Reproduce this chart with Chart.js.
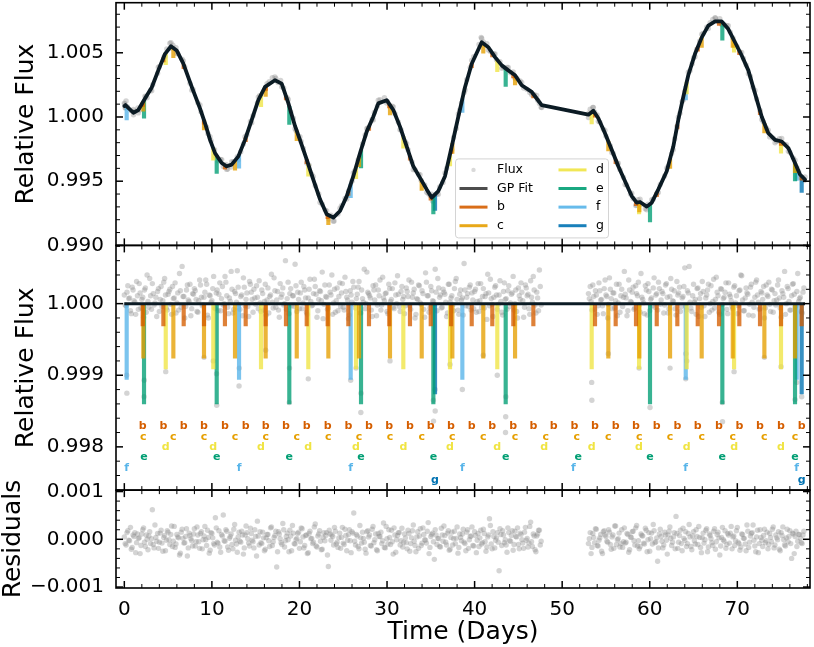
<!DOCTYPE html>
<html>
<head>
<meta charset="utf-8">
<script src="https://cdn.jsdelivr.net/npm/chart.js@4.4.1/dist/chart.umd.min.js"></script>
<style>
  html, body { margin: 0; padding: 0; background: #fff; }
  #wrap { width: 814px; height: 647px; }
</style>
</head>
<body>
<div id="wrap"><canvas id="lc" width="814" height="647"></canvas></div>
<script>
// ---------- data ----------

// GP fit (top panel), time in days / relative flux
const gpTime = [0.00,0.13,1.03,1.60,2.36,3.13,3.88,4.65,5.33,5.98,
  6.74,7.70,8.64,9.22,9.79,10.36,11.12,11.69,12.26,13.02,
  13.78,14.55,15.30,16.07,17.20,17.97,18.73,19.49,20.06,20.83,
  21.58,22.35,23.11,23.87,24.63,25.40,26.15,26.92,27.68,28.43,
  29.00,29.96,30.72,31.48,32.25,33.00,33.77,34.53,35.10,35.86,
  36.62,37.39,38.14,38.91,39.67,40.81,41.57,42.33,43.10,43.85,
  44.62,45.38,46.52,47.09,47.66,53.00,53.56,54.13,54.89,55.66,
  56.41,57.18,57.94,58.51,58.89,59.66,60.23,60.98,61.94,62.69,
  63.26,63.83,64.40,65.17,65.94,66.69,67.46,68.22,68.97,69.74,
  70.50,71.26,72.02,72.79,73.54,74.31,75.07,75.83,76.59,77.16,77.73];
const gpFlux = [1.00085,1.00093,1.00033,1.00054,1.00144,1.00230,1.00363,1.00492,1.00551,1.00518,
  1.00415,1.00234,1.00067,0.99951,0.99822,0.99719,0.99642,0.99616,0.99629,0.99693,
  0.99822,0.99977,1.00131,1.00234,1.00286,1.00260,1.00108,0.99930,0.99822,0.99668,
  0.99513,0.99359,0.99243,0.99217,0.99268,0.99384,0.99539,0.99719,0.99886,1.00002,
  1.00106,1.00131,1.00054,0.99925,0.99770,0.99616,0.99526,0.99436,0.99372,0.99423,
  0.99539,0.99770,1.00002,1.00234,1.00415,1.00582,1.00543,1.00466,1.00402,1.00363,
  1.00325,1.00247,1.00196,1.00144,1.00093,1.00018,1.00049,0.99990,0.99874,0.99745,
  0.99616,0.99500,0.99384,0.99333,0.99338,0.99302,0.99333,0.99436,0.99577,0.99770,
  0.99977,1.00157,1.00325,1.00492,1.00620,1.00711,1.00744,1.00744,1.00685,1.00582,
  1.00479,1.00363,1.00183,1.00002,0.99874,0.99822,0.99809,0.99758,0.99642,0.99552,0.99513];

// raw flux points around the GP (top panel)
const fluxPoints = [[0.05,1.00102],[0.10,1.00070],[0.20,1.00125],[0.35,1.00080],[0.80,1.00048],[1.05,1.00018],[1.20,1.00045],[1.55,1.00070],[1.75,1.00055],[2.45,1.00158],
  [2.60,1.00150],[3.00,1.00208],[3.25,1.00252],[3.80,1.00340],[4.00,1.00392],[4.55,1.00470],[4.85,1.00530],[5.20,1.00575],[5.40,1.00535],[5.55,1.00560],
  [5.90,1.00540],[6.10,1.00495],[6.60,1.00450],[6.90,1.00390],[7.50,1.00262],[7.85,1.00215],[8.40,1.00110],[8.75,1.00040],[9.40,0.99920],[9.55,0.99870],
  [9.90,0.99815],[10.30,0.99745],[10.75,0.99660],[11.00,0.99670],[11.30,0.99615],[11.60,0.99630],[11.80,0.99595],[12.20,0.99610],[12.45,0.99652],[12.90,0.99690],
  [13.30,0.99730],[13.60,0.99790],[14.00,0.99860],[14.40,0.99965],[14.70,1.00010],[15.20,1.00110],[15.45,1.00165],[16.30,1.00260],[16.55,1.00275],[16.90,1.00305],
  [17.30,1.00300],[17.55,1.00268],[17.85,1.00285],[18.20,1.00225],[18.60,1.00150],[19.00,1.00040],[19.30,0.99990],[19.60,0.99895],[20.20,0.99810],[20.45,0.99755],
  [21.10,0.99625],[21.40,0.99555],[21.80,0.99465],[22.20,0.99400],[22.60,0.99320],[22.95,0.99275],[23.35,0.99205],[23.60,0.99235],[23.95,0.99190],[24.40,0.99245],
  [24.80,0.99310],[25.20,0.99365],[25.60,0.99425],[26.00,0.99500],[26.30,0.99580],[26.70,0.99665],[27.20,0.99790],[27.50,0.99860],[27.80,0.99915],[28.30,0.99980],
  [28.55,1.00035],[28.90,1.00085],[29.20,1.00135],[29.70,1.00150],[30.05,1.00120],[30.60,1.00085],[30.90,1.00025],[31.30,0.99960],[31.60,0.99900],[32.10,0.99805],
  [32.40,0.99745],[32.85,0.99650],[33.20,0.99590],[33.60,0.99555],[33.90,0.99505],[34.30,0.99470],[34.70,0.99405],[34.90,0.99390],[35.20,0.99345],[35.70,0.99400],
  [36.00,0.99455],[36.40,0.99490],[36.80,0.99600],[37.60,0.99840],[37.90,0.99910],[38.30,1.00055],[38.50,1.00110],[38.80,1.00190],[39.10,1.00290],[39.50,1.00385],
  [39.90,1.00470],[40.50,1.00565],[40.75,1.00620],[41.00,1.00585],[41.40,1.00570],[41.80,1.00510],[42.20,1.00490],[42.50,1.00445],[42.90,1.00430],[43.30,1.00385],
  [43.70,1.00385],[44.10,1.00345],[44.40,1.00350],[44.85,1.00300],[45.20,1.00280],[45.60,1.00225],[46.00,1.00215],[46.30,1.00190],[46.80,1.00175],[47.20,1.00130],
  [47.40,1.00105],[47.60,1.00075],
  [53.05,1.00030],[53.20,1.00060],[53.50,1.00075],[53.70,1.00040],[54.00,1.00015],[54.30,0.99960],[54.70,0.99905],[55.00,0.99850],[55.50,0.99775],[55.85,0.99715],
  [56.30,0.99640],[56.60,0.99590],[57.00,0.99530],[57.35,0.99470],[57.80,0.99400],[58.10,0.99365],[58.40,0.99310],[58.65,0.99355],[59.00,0.99320],[59.50,0.99285],
  [59.80,0.99320],[60.40,0.99360],[60.80,0.99405],[61.20,0.99475],[61.70,0.99540],[62.10,0.99615],[62.50,0.99715],[62.85,0.99830],[63.10,0.99925],[63.45,1.00030],
  [63.70,1.00120],[64.00,1.00200],[64.60,1.00360],[64.85,1.00415],[65.00,1.00460],[65.35,1.00525],[65.70,1.00590],[66.10,1.00650],[66.50,1.00700],[66.90,1.00735],
  [67.20,1.00760],[67.50,1.00770],[67.70,1.00745],[68.00,1.00765],[68.50,1.00720],[68.80,1.00710],[69.20,1.00660],[69.50,1.00615],[69.95,1.00550],[70.30,1.00505],
  [70.70,1.00455],[71.00,1.00405],[71.50,1.00315],[71.80,1.00230],[72.20,1.00140],[72.60,1.00050],[72.95,0.99965],[73.30,0.99915],[73.70,0.99845],[74.10,0.99835],
  [74.50,0.99810],[74.80,0.99830],[75.30,0.99790],[75.60,0.99785],[76.00,0.99725],[76.40,0.99680],[76.80,0.99605],[77.00,0.99575],[77.40,0.99530],[77.65,0.99505],
  [0.00,1.00107],[0.13,1.00073],[1.03,1.00058],[1.60,1.00032],[2.36,1.00162],[3.13,1.00204],[3.88,1.00387],[4.65,1.00472],[5.33,1.00579],[5.98,1.00494],
  [6.74,1.00437],[7.70,1.00209],[8.64,1.00093],[9.22,0.99929],[9.79,0.99846],[10.36,0.99699],[11.12,0.99668],[11.69,0.99592],[12.26,0.99651],[13.02,0.99667],
  [13.78,0.99847],[14.55,0.99955],[15.30,1.00155],[16.07,1.00214],[17.20,1.00312],[17.97,1.00236],[18.73,1.00136],[19.49,0.99908],[20.06,0.99846],[20.83,0.99642],
  [21.58,0.99535],[22.35,0.99335],[23.11,0.99268],[23.87,0.99189],[24.63,0.99290],[25.40,0.99362],[26.15,0.99565],[26.92,0.99695],[27.68,0.99908],[28.43,0.99977],
  [29.00,1.00130],[29.96,1.00109],[30.72,1.00079],[31.48,0.99901],[32.25,0.99792],[33.00,0.99590],[33.77,0.99550],[34.53,0.99414],[35.10,0.99398],[35.86,0.99399],
  [36.62,0.99564],[37.39,0.99744],[38.14,1.00024],[38.91,1.00210],[39.67,1.00441],[40.81,1.00612],[41.57,1.00521],[42.33,1.00490],[43.10,1.00380],[43.85,1.00385],
  [44.62,1.00301],[45.38,1.00269],[46.52,1.00174],[47.09,1.00168],[47.66,1.00073],[53.00,0.99996],[53.56,1.00075],[54.13,0.99966],[54.89,0.99896],[55.66,0.99723],
  [56.41,0.99640],[57.18,0.99474],[57.94,0.99406],[58.51,0.99313],[58.89,0.99360],[59.66,0.99278],[60.23,0.99355],[60.98,0.99412],[61.94,0.99601],[62.69,0.99744],
  [63.26,0.99999],[63.83,1.00133],[64.40,1.00349],[65.17,1.00470],[65.94,1.00644],[66.69,1.00689],[67.46,1.00774],[68.22,1.00720],[68.97,1.00711],[69.74,1.00560],
  [70.50,1.00503],[71.26,1.00337],[72.02,1.00207],[72.79,0.99980],[73.54,0.99898],[74.31,0.99800],[75.07,0.99833],[75.83,0.99734],[76.59,0.99664],[77.16,0.99528],[77.73,0.99533]];

// observation times (two interleaved cadences) for the detrended and residual panels
const obsTime = [0,0.2,0.4,0.6,0.8,1,1.2,1.4,1.6,1.8,2,2.2,2.4,2.6,2.8,3,3.2,3.4,3.6,3.8,
  4,4.2,4.4,4.6,4.8,5,5.2,5.4,5.6,5.8,6,6.2,6.4,6.6,6.8,7,7.2,7.4,7.6,7.8,
  8,8.2,8.4,8.6,8.8,9,9.2,9.4,9.6,9.8,10,10.2,10.4,10.6,10.8,11,11.2,11.4,11.6,11.8,
  12,12.2,12.4,12.6,12.8,13,13.2,13.4,13.6,13.8,14,14.2,14.4,14.6,14.8,15,15.2,15.4,15.6,15.8,
  16,16.2,16.4,16.6,16.8,17,17.2,17.4,17.6,17.8,18,18.2,18.4,18.6,18.8,19,19.2,19.4,19.6,19.8,
  20,20.2,20.4,20.6,20.8,21,21.2,21.4,21.6,21.8,22,22.2,22.4,22.6,22.8,23,23.2,23.4,23.6,23.8,
  24,24.2,24.4,24.6,24.8,25,25.2,25.4,25.6,25.8,26,26.2,26.4,26.6,26.8,27,27.2,27.4,27.6,27.8,
  28,28.2,28.4,28.6,28.8,29,29.2,29.4,29.6,29.8,30,30.2,30.4,30.6,30.8,31,31.2,31.4,31.6,31.8,
  32,32.2,32.4,32.6,32.8,33,33.2,33.4,33.6,33.8,34,34.2,34.4,34.6,34.8,35,35.2,35.4,35.6,35.8,
  36,36.2,36.4,36.6,36.8,37,37.2,37.4,37.6,37.8,38,38.2,38.4,38.6,38.8,39,39.2,39.4,39.6,39.8,
  40,40.2,40.4,40.6,40.8,41,41.2,41.4,41.6,41.8,42,42.2,42.4,42.6,42.8,43,43.2,43.4,43.6,43.8,
  44,44.2,44.4,44.6,44.8,45,45.2,45.4,45.6,45.8,46,46.2,46.4,46.6,46.8,47,47.2,47.4,47.6,
  53,53.2,53.4,53.6,53.8,54,54.2,54.4,54.6,54.8,55,55.2,55.4,55.6,55.8,56,56.2,56.4,56.6,56.8,
  57,57.2,57.4,57.6,57.8,58,58.2,58.4,58.6,58.8,59,59.2,59.4,59.6,59.8,60,60.2,60.4,60.6,60.8,
  61,61.2,61.4,61.6,61.8,62,62.2,62.4,62.6,62.8,63,63.2,63.4,63.6,63.8,64,64.2,64.4,64.6,64.8,
  65,65.2,65.4,65.6,65.8,66,66.2,66.4,66.6,66.8,67,67.2,67.4,67.6,67.8,68,68.2,68.4,68.6,68.8,
  69,69.2,69.4,69.6,69.8,70,70.2,70.4,70.6,70.8,71,71.2,71.4,71.6,71.8,72,72.2,72.4,72.6,72.8,
  73,73.2,73.4,73.6,73.8,74,74.2,74.4,74.6,74.8,75,75.2,75.4,75.6,75.8,76,76.2,76.4,76.6,76.8,
  77,77.2,77.4,77.6];
const obsTime2 = [0.1,0.3,0.5,0.7,0.9,1.1,1.3,1.5,1.7,1.9,2.1,2.3,2.5,2.7,2.9,3.1,3.3,3.5,3.7,3.9,
  4.1,4.3,4.5,4.7,4.9,5.1,5.3,5.5,5.7,5.9,6.1,6.3,6.5,6.7,6.9,7.1,7.3,7.5,7.7,7.9,
  8.1,8.3,8.5,8.7,8.9,9.1,9.3,9.5,9.7,9.9,10.1,10.3,10.5,10.7,10.9,11.1,11.3,11.5,11.7,11.9,
  12.1,12.3,12.5,12.7,12.9,13.1,13.3,13.5,13.7,13.9,14.1,14.3,14.5,14.7,14.9,15.1,15.3,15.5,15.7,15.9,
  16.1,16.3,16.5,16.7,16.9,17.1,17.3,17.5,17.7,17.9,18.1,18.3,18.5,18.7,18.9,19.1,19.3,19.5,19.7,19.9,
  20.1,20.3,20.5,20.7,20.9,21.1,21.3,21.5,21.7,21.9,22.1,22.3,22.5,22.7,22.9,23.1,23.3,23.5,23.7,23.9,
  24.1,24.3,24.5,24.7,24.9,25.1,25.3,25.5,25.7,25.9,26.1,26.3,26.5,26.7,26.9,27.1,27.3,27.5,27.7,27.9,
  28.1,28.3,28.5,28.7,28.9,29.1,29.3,29.5,29.7,29.9,30.1,30.3,30.5,30.7,30.9,31.1,31.3,31.5,31.7,31.9,
  32.1,32.3,32.5,32.7,32.9,33.1,33.3,33.5,33.7,33.9,34.1,34.3,34.5,34.7,34.9,35.1,35.3,35.5,35.7,35.9,
  36.1,36.3,36.5,36.7,36.9,37.1,37.3,37.5,37.7,37.9,38.1,38.3,38.5,38.7,38.9,39.1,39.3,39.5,39.7,39.9,
  40.1,40.3,40.5,40.7,40.9,41.1,41.3,41.5,41.7,41.9,42.1,42.3,42.5,42.7,42.9,43.1,43.3,43.5,43.7,43.9,
  44.1,44.3,44.5,44.7,44.9,45.1,45.3,45.5,45.7,45.9,46.1,46.3,46.5,46.7,46.9,47.1,47.3,47.5,
  53.1,53.3,53.5,53.7,53.9,54.1,54.3,54.5,54.7,54.9,55.1,55.3,55.5,55.7,55.9,56.1,56.3,56.5,56.7,56.9,
  57.1,57.3,57.5,57.7,57.9,58.1,58.3,58.5,58.7,58.9,59.1,59.3,59.5,59.7,59.9,60.1,60.3,60.5,60.7,60.9,
  61.1,61.3,61.5,61.7,61.9,62.1,62.3,62.5,62.7,62.9,63.1,63.3,63.5,63.7,63.9,64.1,64.3,64.5,64.7,64.9,
  65.1,65.3,65.5,65.7,65.9,66.1,66.3,66.5,66.7,66.9,67.1,67.3,67.5,67.7,67.9,68.1,68.3,68.5,68.7,68.9,
  69.1,69.3,69.5,69.7,69.9,70.1,70.3,70.5,70.7,70.9,71.1,71.3,71.5,71.7,71.9,72.1,72.3,72.5,72.7,72.9,
  73.1,73.3,73.5,73.7,73.9,74.1,74.3,74.5,74.7,74.9,75.1,75.3,75.5,75.7,75.9,76.1,76.3,76.5,76.7,76.9,
  77.1,77.3,77.5];

// detrended flux, offset from 1 in units of 1e-5 (one array per cadence)
const detrendedE5 = [12,-3,25,8,-14,19,2,31,-8,15,6,-19,22,40,-5,11,28,-2,9,17,
  -11,24,4,35,-6,13,20,-15,7,29,1,-9,18,52,10,-4,26,3,-17,14,
  21,6,-12,33,9,-2,16,27,-20,11,4,38,-7,19,13,-10,24,0,30,-5,
  8,45,-13,17,2,23,-8,12,36,-3,15,-18,27,6,20,-1,9,32,-11,14,
  3,-16,22,10,41,-6,18,5,-9,28,13,-2,60,7,-14,21,11,-4,25,16,
  -7,30,1,19,-12,8,34,-3,14,24,-19,6,17,44,-1,10,-8,26,12,-15,
  20,4,-10,29,15,-5,37,9,-21,18,2,23,-6,13,31,-13,7,48,0,16,
  11,-9,25,5,-17,19,33,-2,8,14,-11,27,3,21,-7,12,39,-4,17,6,
  -14,22,10,-3,30,15,-20,7,26,1,18,-8,43,11,-12,24,4,-1,16,35,
  9,-6,20,13,-18,27,2,11,-10,31,6,-15,19,8,56,-3,14,23,-9,5,
  17,-12,28,4,-5,21,10,-22,15,34,-1,9,25,-8,12,3,-16,29,7,18,
  -4,13,38,0,-11,22,6,16,-19,26,11,-7,32,2,19,-13,8,47,-2,14,
  24,-9,10,18,-15,29,5,-3,21,12,-20,36,7,15,-6,27,1,-12,20,9,
  13,-17,33,3,16,-8,25,11,-2,42,6,-14,19,28,-10,8,22,-5,14,30,
  -1,17,-13,26,9,-7,35,4,18,-16,12,23,-4,10,50,-9,15,2,-11,27,
  6,21,-18,14,31,-3,8,19,-12,25,3,-6,37,11,-15,20,7,16,-8,29,
  10,-4,23,1,-14,18,40,5,-10,22,13,-1,27,-17,9,33,2,-7,15,24,
  -6,12,30,-11,19,4,-2,26,8,-19,14,45,0,21,-9,11,28,-5,17,3,
  9,-13,22];
const detrended2E5 = [-2,16,7,-10,23,4,-15,11,28,-6,9,19,-12,3,35,-8,14,1,-18,21,
  6,-4,30,12,-9,17,-1,24,8,-13,15,42,-5,10,-20,19,5,27,-7,13,
  18,-11,4,26,-3,9,33,-16,12,2,21,-6,15,-10,29,7,-2,38,11,-14,
  3,20,-8,14,46,-1,10,-17,23,6,-4,31,16,-12,8,25,-7,1,19,-9,
  27,5,-13,12,2,36,-5,17,-19,9,22,0,-8,30,14,-3,11,55,-11,6,
  15,-7,24,8,-15,20,3,-2,34,13,-10,18,4,-21,26,9,-6,16,40,1,
  -12,22,10,-4,28,-9,17,5,-16,12,31,-1,7,23,-13,19,2,-7,44,14,
  8,-18,19,26,-2,11,-9,37,4,15,-14,21,6,-5,29,0,13,-11,24,10,
  -3,17,33,-8,9,20,-15,6,25,-1,14,-19,30,11,-6,18,3,48,-10,22,
  12,-5,16,2,-13,27,8,-2,21,35,-9,13,5,-16,19,9,-4,26,15,-7,
  20,3,-11,28,10,-6,14,41,-3,7,-18,23,12,-1,32,-12,17,6,-8,25,
  1,15,-9,19,-20,11,29,4,-5,22,13,-15,9,38,-2,16,-10,24,7,3,
  26,-8,12,-3,18,6,-14,33,10,-1,20,-7,15,4,-17,27,11,-4,45,8,
  -10,19,2,23,-6,14,30,-12,9,1,25,-16,17,6,-3,36,12,-9,21,5,
  14,-2,28,-13,10,20,3,-7,31,15,-11,8,24,-4,18,52,-6,11,2,-15,
  22,7,-5,17,-18,12,27,0,-9,34,6,16,-12,21,-1,9,29,-14,13,4,
  -7,25,11,-3,19,39,-10,8,15,-16,23,2,-5,30,12,-8,17,6,-20,26,
  10,-1,20,-12,14,5,33,-6,18,9,-15,24,3,-9,27,13,-3,42,7,-11,
  16];

// in-transit points of the detrended panel
const inTransit = [[2.25,0.99870],[2.27,0.99893],[10.55,0.99858],[10.53,0.99902],[18.84,0.99862],[18.86,0.99910],[27.03,0.99875],[27.01,0.99848],
  [35.29,0.99865],[35.31,0.99836],[43.55,0.99842],[43.53,0.99820],[43.57,0.99870],[60.03,0.99855],[68.29,0.99862],[68.31,0.99835],[76.59,0.99866],
  [0.27,0.99900],[0.29,0.99875],[13.10,0.99885],[13.12,0.99910],[25.85,0.99893],[38.60,0.99880],[64.11,0.99895],[64.13,0.99930],[76.78,0.99890],
  [4.73,0.99905],[10.16,0.99920],[21.01,0.99895],[26.46,0.99910],[37.19,0.99915],[42.59,0.99900],[53.37,0.99890],[53.39,0.99865],[58.78,0.99910],
  [64.22,0.99920],[69.63,0.99905],[74.99,0.99912],[9.10,0.99925],[16.14,0.99935],[30.34,0.99920],[40.99,0.99928],[55.27,0.99930],[62.32,0.99910],
  [73.09,0.99925],[35.48,0.99880],[35.50,0.99850],[77.35,0.99870]];

// residuals in units of 1e-5 (one array per cadence)
const residualsE5 = [5,-12,18,-3,-21,9,14,-7,2,-30,11,24,-15,0,7,-9,62,-18,4,12,
  -6,19,-25,8,-2,15,-11,28,-4,-17,10,3,-29,21,-8,6,-35,13,1,-14,
  22,-5,9,-19,16,-1,27,-13,4,-23,12,-9,45,-6,18,-27,7,-3,20,-16,
  2,11,-20,31,-10,5,-4,17,-31,9,14,-8,23,-2,-18,6,38,-12,-7,15,
  -24,3,10,-15,26,-5,8,-58,16,1,-11,20,-3,13,-26,7,29,-9,-1,12,
  -19,24,5,-13,9,-28,17,2,-6,32,-16,11,-4,-21,14,8,-33,19,-2,6,
  25,-10,-17,13,4,-8,21,-24,10,-3,16,55,-12,7,-20,3,15,-6,-29,18,
  9,-14,27,-1,-22,12,6,-9,34,-18,1,20,-11,-5,24,-27,8,14,-3,-16,
  11,-7,19,-25,3,30,-13,5,-19,22,-8,10,-2,17,-30,6,13,-42,9,2,
  -15,23,-4,8,-12,18,-21,15,1,-9,26,-17,4,11,-6,-24,20,-1,7,-13,
  16,-28,12,3,-10,21,-5,-16,9,29,-20,6,-2,14,-66,10,18,-7,-12,24,
  -3,8,-23,17,5,-11,13,-1,-19,25,2,-8,36,-15,7,-26,11,19,-4,-9,
  14,-17,4,22,-13,-2,10,-30,18,6,-6,15,-21,9,28,-11,1,-16,20,-5,
  -8,12,-27,5,16,-3,24,-14,-20,11,7,-10,19,-1,-25,13,31,-7,3,-18,
  21,-4,-12,9,-31,17,2,-6,14,48,-19,8,-9,23,-2,-15,12,5,-22,16,
  -10,6,27,-17,3,-8,19,-26,11,1,-13,22,-5,15,-33,4,-1,18,-11,9,
  13,-20,7,-3,25,-9,-16,10,2,-24,17,-6,12,30,-14,5,-28,20,-2,8,
  -7,15,-11,4,21,-18,9,-1,-21,14,26,-12,3,-5,18,-40,11,6,-15,10,
  2,-9,17];
const residuals2E5 = [-9,14,-2,25,-17,6,-28,11,3,-13,20,-6,9,-22,16,1,-11,30,-4,-19,
  13,-8,4,-24,18,-1,10,-15,27,-10,5,-33,15,2,-7,22,-18,8,-3,11,
  -14,26,-5,12,-20,7,-1,19,-29,14,3,-12,24,-8,-16,10,51,-4,17,-23,
  6,-11,21,-2,-27,15,-6,9,-18,28,1,-14,12,-5,20,-35,7,16,-9,3,
  -21,10,-3,24,-13,4,17,-26,11,-7,33,-16,6,-1,19,-24,13,-10,2,15,
  -5,22,-18,8,-30,12,1,-9,26,-14,7,18,-22,4,-3,14,-57,11,9,-12,
  17,-6,3,-19,25,-11,8,-2,20,-28,13,-4,10,-15,29,-8,2,-21,16,5,
  -13,21,-7,11,-24,6,15,-3,-17,27,-10,4,19,-31,9,-1,14,-12,23,-6,
  3,-20,12,-9,18,-4,-26,16,7,-13,24,-1,-8,35,-17,10,-5,20,-11,1,
  -16,9,28,-6,13,-23,4,-12,17,2,-29,11,-3,21,-9,15,-19,6,26,-14,
  8,-2,-15,19,-7,12,-25,5,43,-10,16,-18,3,-6,22,-13,9,-1,-27,14,
  -4,18,-11,6,24,-20,10,-8,15,-2,-16,27,-5,11,-22,7,19,-12,1,-30,
  12,-7,21,-14,3,-25,16,9,-4,20,-11,5,-19,28,-1,13,-9,-17,24,-6,
  10,-22,4,17,-12,29,-3,-15,8,-8,23,-26,14,1,-10,18,-5,-46,11,6,
  -18,15,-2,9,26,-13,5,-20,12,-6,19,-24,2,16,-9,31,-15,7,-3,20,
  -11,4,-28,13,-1,22,-16,8,-7,17,-21,10,3,-14,25,-4,-19,12,-8,27,
  5,-13,18,-6,-23,11,2,-10,30,-17,7,14,-2,-26,19,-9,4,-15,21,-3,
  -20,12,-5,26,-12,3,16,-24,8,-1,-14,21,6,-9,13,-30,17,-4,10,-7,
  9];

// planets, transit mid-times (days) and GP flux at each transit (null = no data)
const planetNames = ['b','c','d','e','f','g'];
const bTimes = [2.10,4.46,6.78,9.10,11.49,13.86,16.14,18.46,20.83,23.22,25.58,27.94,30.26,32.62,34.99,37.31,39.67,
  42.02,44.42,46.71,49.03,51.39,53.75,56.11,58.43,60.80,63.15,65.48,67.91,70.23,72.59,74.99,77.35];
const bGp = [1.00113,1.00460,1.00408,0.99975,0.99625,0.99838,1.00237,1.00163,0.99668,0.99239,0.99421,0.99926,1.00101,
  0.99695,0.99384,0.99747,1.00415,1.00498,1.00335,1.00179,null,null,1.00030,0.99668,0.99340,0.99411,0.99938,1.00543,
  1.00744,1.00516,1.00049,0.99810,0.99539];
const cTimes = [2.17,5.60,9.10,12.64,16.14,19.69,23.30,26.80,30.34,33.96,37.46,40.99,44.62,48.12,51.66,55.27,58.81,
  62.32,65.93,69.48,73.09,76.59];
const cGp = [1.00122,1.00537,0.99975,0.99661,1.00237,0.99892,0.99237,0.99690,1.00093,0.99504,0.99792,1.00573,1.00325,
  null,null,0.99811,0.99337,0.99675,1.00618,1.00617,0.99951,0.99642];
const dTimes = [4.73,10.16,15.61,21.01,26.46,31.86,37.19,42.59,47.96,53.37,58.78,64.22,69.63,74.99];
const dGp = [1.00499,0.99755,1.00172,0.99631,0.99611,0.99849,0.99710,1.00444,null,1.00038,0.99336,1.00271,1.00596,0.99810];
const eTimes = [2.25,10.55,18.84,27.03,35.29,43.55,51.84,60.03,68.29,76.59];
const eGp = [1.00131,0.99700,1.00083,0.99743,0.99385,1.00379,null,0.99322,1.00739,0.99642];
const fTimes = [0.27,13.10,25.85,38.60,51.27,64.11,76.78];
const fGp = [1.00083,0.99707,0.99477,1.00141,null,1.00239,0.99612];
const gTimes = [35.48,77.35];
const gGp = [0.99398,0.99539];
// in-transit minimum of the detrended model for b..g
const transitFloor = [0.99969,0.99924,0.99909,0.99860,0.99894,0.99874];

// axis ticks
const xTicks = [0,10,20,30,40,50,60,70];
const topTicks = [0.990,0.995,1.000,1.005];
const midTicks = [0.998,0.999,1.000];
const resTicks = [-0.001,0,0.001];

// ---------- styling ----------
const planetRgb = ['213,94,0','230,159,0','240,228,66','0,158,115','86,180,233','0,114,178'];
const labelLevel = [0.99829,0.99814,0.99800,0.99785,0.99770,0.99754];
const lineColor = '#0b1b24';
const dotColor = 'rgba(135,135,135,0.36)';
const legendDotColor = 'rgba(128,128,128,0.3)';

Chart.defaults.font.family = "'DejaVu Sans', sans-serif";
Chart.defaults.color = '#000';

const planetTimes = [bTimes, cTimes, dTimes, eTimes, fTimes, gTimes];
const planetGp = [bGp, cGp, dGp, eGp, fGp, gGp];

function pairUp(times, vals, toY) {
  const n = Math.min(times.length, vals.length);
  const out = [];
  for (let i = 0; i < n; i++) out.push({ x: times[i], y: toY(vals[i]) });
  return out;
}

const scatterBase = { type: 'scatter', pointRadius: 2.7, pointBackgroundColor: dotColor,
  pointBorderWidth: 0, pointHoverRadius: 0, order: 3 };

const datasets = [];
datasets.push({ ...scatterBase, label: 'Flux', yAxisID: 'yTop',
  data: fluxPoints.map(p => ({ x: p[0], y: p[1] })) });
datasets.push({ ...scatterBase, yAxisID: 'yMid',
  data: pairUp(obsTime, detrendedE5, v => 1 + v * 1e-5)
    .concat(pairUp(obsTime2, detrended2E5, v => 1 + v * 1e-5))
    .concat(inTransit.map(p => ({ x: p[0], y: p[1] }))) });
datasets.push({ ...scatterBase, yAxisID: 'yRes',
  data: pairUp(obsTime, residualsE5, v => v * 1e-5)
    .concat(pairUp(obsTime2, residuals2E5, v => v * 1e-5)) });

planetNames.forEach((name, k) => {
  const floor = transitFloor[k];
  const depth = 1 - floor;
  const seen = planetTimes[k].map((t, i) => ({ t, g: planetGp[k][i] })).filter(o => o.g !== null);
  const style = { type: 'bar', backgroundColor: 'rgba(' + planetRgb[k] + ',0.78)', borderWidth: 0,
    barThickness: 3.5, grouped: false, order: 2 };
  datasets.push({ ...style, label: name, yAxisID: 'yTop', data: seen.map(o => ({ x: o.t, y: [o.g - depth, o.g] })) });
  datasets.push({ ...style, yAxisID: 'yMid', data: seen.map(o => ({ x: o.t, y: [floor, 1] })) });
});

datasets.push({ type: 'line', label: 'GP Fit', yAxisID: 'yTop',
  data: gpTime.map((t, i) => ({ x: t, y: gpFlux[i] })),
  borderColor: lineColor, borderWidth: 3.8, pointRadius: 0, tension: 0,
  borderJoinStyle: 'round', borderCapStyle: 'round', order: 0 });
datasets.push({ type: 'line', yAxisID: 'yMid',
  data: [{ x: gpTime[0], y: 1 }, { x: gpTime[gpTime.length - 1], y: 1 }],
  borderColor: lineColor, borderWidth: 3, pointRadius: 0, order: 0 });

function fmt3(v) {
  if (Math.abs(v) < 1e-12) return '0.000';
  return (v < 0 ? '\u2212' : '') + Math.abs(v).toFixed(3);
}

function yAxis(weight, min, max, ticks, title, titlePad) {
  return {
    type: 'linear', position: 'left', stack: 'panels', stackWeight: weight,
    min, max, beginAtZero: false,
    grid: { display: false, drawTicks: false },
    border: { display: false },
    afterBuildTicks: s => { s.ticks = ticks.map(v => ({ value: v })); },
    afterFit: s => { s.width = 116; s.paddingTop = 0; s.paddingBottom = 0; },
    ticks: { font: { size: 20 }, color: '#000', padding: 12, autoSkip: false, callback: v => fmt3(v) },
    title: { display: true, text: title, font: { size: 25 }, color: '#000', padding: { top: titlePad, bottom: 0 } }
  };
}

const frameTicks = {
  id: 'frameTicks',
  afterDatasetsDraw(chart) {
    const { ctx, chartArea: a, scales } = chart;
    const xs = scales.x;
    const seg = (x1, y1, x2, y2) => { ctx.beginPath(); ctx.moveTo(x1, y1); ctx.lineTo(x2, y2); ctx.stroke(); };
    const panels = [['yTop', topTicks, 0.001], ['yMid', midTicks, 0.0002], ['yRes', resTicks, 0.0002]];
    ctx.save();
    ctx.strokeStyle = '#000';
    panels.forEach(([id, major, step]) => {
      const ys = scales[id];
      const top = ys.top, bot = ys.bottom;
      ctx.lineWidth = 1;
      for (let v = 0; v <= xs.max; v += 2) {
        if (v % 10 === 0) continue;
        const p = xs.getPixelForValue(v);
        seg(p, top, p, top + 4); seg(p, bot, p, bot - 4);
      }
      for (let k = Math.ceil(ys.min / step - 1e-6); k * step <= ys.max + 1e-12; k++) {
        const v = k * step;
        if (major.some(m => Math.abs(m - v) < step / 10)) continue;
        const p = ys.getPixelForValue(v);
        seg(a.left, p, a.left + 4, p); seg(a.right, p, a.right - 4, p);
      }
      ctx.lineWidth = 1.5;
      xTicks.forEach(v => {
        const p = xs.getPixelForValue(v);
        seg(p, top, p, top + 7); seg(p, bot, p, bot - 7);
      });
      major.forEach(v => {
        const p = ys.getPixelForValue(v);
        seg(a.left, p, a.left + 7, p); seg(a.right, p, a.right - 7, p);
      });
      ctx.lineWidth = 1.6;
      ctx.strokeRect(a.left, top, a.right - a.left, bot - top);
    });

    // planet letters under the transits
    const ym = scales.yMid;
    ctx.font = 'bold 11px "DejaVu Sans"';
    ctx.textAlign = 'center';
    ctx.textBaseline = 'middle';
    planetNames.forEach((name, k) => {
      ctx.fillStyle = 'rgb(' + planetRgb[k] + ')';
      planetTimes[k].forEach(t => ctx.fillText(name, xs.getPixelForValue(t), ym.getPixelForValue(labelLevel[k])));
    });
    ctx.restore();
  }
};

const legendBox = {
  id: 'legendBox',
  afterDraw(chart) {
    const { ctx, chartArea: a } = chart;
    const ys = chart.scales.yTop;
    const L = a.left + 339.5, T = ys.bottom - 86.5, W = 153, H = 79;
    ctx.save();
    ctx.beginPath();
    ctx.roundRect(L, T, W, H, 3);
    ctx.fillStyle = 'rgba(255,255,255,0.8)';
    ctx.fill();
    ctx.strokeStyle = '#d4d4d4';
    ctx.lineWidth = 1;
    ctx.stroke();
    const entries = [
      { label: 'Flux', dot: true },
      { label: 'GP Fit', color: '#4d4d4d' },
      { label: 'b', color: 'rgba(' + planetRgb[0] + ',0.9)' },
      { label: 'c', color: 'rgba(' + planetRgb[1] + ',0.9)' },
      { label: 'd', color: 'rgba(' + planetRgb[2] + ',0.9)' },
      { label: 'e', color: 'rgba(' + planetRgb[3] + ',0.9)' },
      { label: 'f', color: 'rgba(' + planetRgb[4] + ',0.9)' },
      { label: 'g', color: 'rgba(' + planetRgb[5] + ',0.9)' }
    ];
    ctx.font = '12.5px "DejaVu Sans"';
    ctx.textBaseline = 'middle';
    ctx.textAlign = 'left';
    entries.forEach((e, i) => {
      const col = Math.floor(i / 4), row = i % 4;
      const x0 = L + 4 + col * 99, y = T + 11 + row * 18.6;
      if (e.dot) {
        ctx.fillStyle = legendDotColor;
        ctx.beginPath(); ctx.arc(x0 + 14, y, 2.2, 0, Math.PI * 2); ctx.fill();
      } else {
        ctx.strokeStyle = e.color; ctx.lineWidth = 3;
        ctx.beginPath(); ctx.moveTo(x0, y); ctx.lineTo(x0 + 28, y); ctx.stroke();
      }
      ctx.fillStyle = '#000';
      ctx.fillText(e.label, x0 + 37.5, y);
    });
    ctx.restore();
  }
};

new Chart(document.getElementById('lc').getContext('2d'), {
  type: 'scatter',
  data: { datasets },
  options: {
    responsive: false,
    animation: false,
    layout: { padding: { top: 2, right: 4, bottom: 0, left: 0 } },
    plugins: { legend: { display: false }, tooltip: { enabled: false } },
    events: [],
    scales: {
      x: {
        type: 'linear', min: -0.95, max: 78.3, offset: false,
        grid: { display: false, drawTicks: false, offset: false },
        border: { display: false },
        afterBuildTicks: s => { s.ticks = xTicks.map(v => ({ value: v })); },
        afterFit: s => { s.height = 59; s.paddingLeft = 0; s.paddingRight = 0; },
        ticks: { font: { size: 20 }, color: '#000', padding: 10, maxRotation: 0, autoSkip: false, callback: v => String(v) },
        title: { display: true, text: 'Time (Days)', font: { size: 25 }, color: '#000', padding: { top: 0, bottom: 0 } }
      },
      yRes: yAxis(98, -0.00102, 0.00103, resTicks, 'Residuals', -2),
      yMid: yAxis(245, 0.997396, 1.000813, midTicks, 'Relative Flux', 11),
      yTop: yAxis(243, 0.990, 1.0089, topTicks, 'Relative Flux', 11)
    }
  },
  plugins: [frameTicks, legendBox]
});
</script>
</body>
</html>
